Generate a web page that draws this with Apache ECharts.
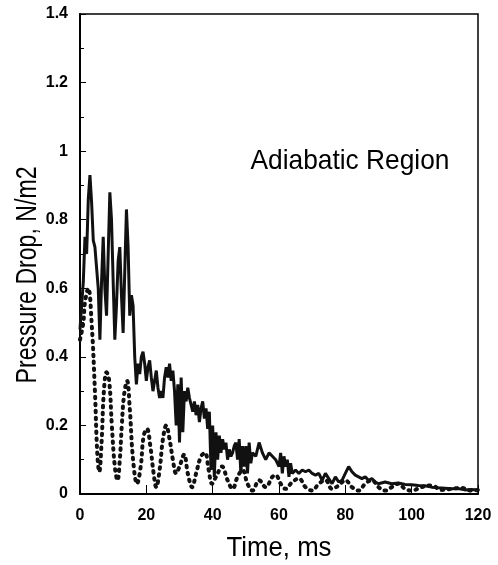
<!DOCTYPE html>
<html><head><meta charset="utf-8">
<script src="https://cdn.jsdelivr.net/npm/echarts@6/dist/echarts.min.js"></script>
<style>html,body{margin:0;padding:0;background:#fff}#c{width:498px;height:565px}</style>
</head><body><div id="c"></div>
<script>
var xTicks = [0, 20, 40, 60, 80, 100, 120];
var yTicks = [0, 0.2, 0.4, 0.6, 0.8, 1, 1.2, 1.4];
var solidT = [0,0.5,1,1.5,2,2.5,3,3.5,4,4.5,5,5.5,6,6.5,7,7.5,8,8.5,9,9.5,10,10.5,11,11.5,12,12.5,13,13.5,14,14.5,15,15.5,16,16.5,17,17.5,18,18.5,19,19.5,20,20.5,21,21.5,22,22.5,23,23.5,24,24.5,25,25.5,26,26.5,27,27.5,28,28.5,29,29.5,30,30.5,31,31.5,32,32.5,33,33.5,34,34.5,35,35.5,36,36.5,37,37.5,38,38.5,39,39.5,40,40.5,41,41.5,42,42.5,43,43.5,44,44.5,45,45.5,46,46.5,47,47.5,48,48.5,49,49.5,50,50.5,51,51.5,52,53,54,55,56,57,58,59,60,60.5,61,61.5,62,62.5,63,63.5,64,65,66,67,68,69,70,71,72,73,74,75,76,77,78,79,80,81,82,83,84,85,86,87,88,89,90,92,94,96,98,100,102,104,106,108,110,112,114,116,118,120];
var solidV = [0.48,0.55,0.62,0.75,0.7,0.86,0.93,0.85,0.74,0.72,0.72,0.6,0.45,0.62,0.75,0.6,0.52,0.7,0.88,0.8,0.62,0.45,0.55,0.68,0.72,0.58,0.47,0.65,0.83,0.72,0.52,0.58,0.55,0.4,0.32,0.38,0.35,0.4,0.415,0.38,0.33,0.37,0.39,0.34,0.3,0.33,0.36,0.31,0.28,0.3,0.28,0.34,0.37,0.34,0.38,0.33,0.36,0.3,0.2,0.32,0.15,0.34,0.18,0.3,0.27,0.31,0.28,0.26,0.24,0.27,0.23,0.26,0.21,0.25,0.27,0.22,0.25,0.19,0.24,0.07,0.2,0.05,0.18,0.1,0.17,0.12,0.16,0.13,0.15,0.1,0.13,0.11,0.12,0.14,0.15,0.1,0.16,0.06,0.14,0.08,0.14,0.06,0.15,0.09,0.12,0.11,0.15,0.12,0.1,0.12,0.11,0.1,0.08,0.12,0.06,0.11,0.08,0.1,0.05,0.09,0.06,0.07,0.06,0.07,0.065,0.07,0.06,0.055,0.06,0.04,0.06,0.045,0.03,0.05,0.035,0.04,0.06,0.08,0.065,0.055,0.05,0.045,0.05,0.04,0.045,0.035,0.03,0.035,0.03,0.032,0.028,0.027,0.025,0.024,0.02,0.018,0.017,0.015,0.016,0.012,0.013,0.012];
var dashT = [0,1,1.5,2.5,3.5,4.5,5.2,5.8,6.5,7.2,8,8.8,9.6,10.5,11.3,12,12.6,13.3,14.2,15,16,17.2,18.3,19.2,20.2,21.2,22.2,23,24,25,26,27,28,29,30,31.4,32.5,33.8,35,36.5,37.7,38.8,39.8,41,42.8,44.5,46,47.5,49,50.5,52,54,56,58,59,60.5,62,64,66,68,70,72,74,76,78,80,82,84,86,88,90,92,94,96,98,100,103,106,109,112,115,118,120];
var dashV = [0.45,0.5,0.56,0.6,0.5,0.3,0.12,0.065,0.15,0.3,0.355,0.33,0.2,0.08,0.04,0.1,0.2,0.29,0.33,0.25,0.1,0.03,0.08,0.17,0.19,0.14,0.06,0.02,0.07,0.16,0.2,0.16,0.1,0.06,0.08,0.115,0.06,0.02,0.06,0.11,0.12,0.07,0.03,0.05,0.08,0.04,0.015,0.05,0.07,0.03,0.01,0.04,0.02,0.05,0.055,0.03,0.015,0.035,0.045,0.02,0.01,0.03,0.04,0.015,0.025,0.04,0.02,0.01,0.03,0.04,0.02,0.01,0.02,0.03,0.015,0.01,0.02,0.025,0.012,0.015,0.018,0.01,0.012];
var labelTitle = 'Adiabatic Region';
var xName = 'Time, ms';
var yName = 'Pressure Drop, N/m2';

function pairs(t, v){ return t.map(function(x,i){return [x, v[i]];}); }
var chart = echarts.init(document.getElementById('c'), null, {renderer:'canvas'});
var FONT = '"Liberation Sans", Arial, Helvetica, sans-serif';
chart.setOption({
  animation:false,
  backgroundColor:'#fff',
  grid:{left:80, right:20, top:14, bottom:71, show:true, borderColor:'#000', borderWidth:1.5, backgroundColor:'transparent'},
  xAxis:{type:'value', min:0, max:120, interval:20,
    axisLine:{lineStyle:{color:'#000', width:2}},
    axisTick:{inside:true, length:9, lineStyle:{color:'#000', width:1}},
    axisLabel:{color:'#000', fontFamily:FONT, fontWeight:'bold', fontSize:16, margin:14,
      formatter:function(v){ return xTicks.indexOf(v)>=0 ? String(v) : ''; }},
    splitLine:{show:false}
  },
  yAxis:{type:'value', min:0, max:1.4, interval:0.2,
    axisLine:{show:true, lineStyle:{color:'#000', width:2}},
    axisTick:{show:true, inside:true, length:6, lineStyle:{color:'#000', width:1}},
    minorTick:{show:true, splitNumber:2, length:4, lineStyle:{color:'#000', width:1}},
    axisLabel:{color:'#000', fontFamily:FONT, fontWeight:'bold', fontSize:16, margin:12,
      formatter:function(v){ var r = Math.round(v*10)/10; return String(r); }},
    splitLine:{show:false}
  },
  graphic:[
    {type:'text', x:350, y:161, scaleX:0.94, style:{text:labelTitle, font:'28px '+FONT, fill:'#000', align:'center', verticalAlign:'middle'}},
    {type:'text', x:28, y:275, rotation:Math.PI/2, scaleX:0.77, style:{text:yName, font:'30px '+FONT, fill:'#000', align:'center', verticalAlign:'middle'}},
    {type:'text', x:279, y:548, scaleX:0.92, style:{text:xName, font:'28px '+FONT, fill:'#000', align:'center', verticalAlign:'middle'}}
  ],
  series:[
    {type:'line', data:pairs(dashT, dashV), showSymbol:false, smooth:0.4,
      lineStyle:{color:'#111', width:4, type:[1.5,5.5], cap:'round'}, z:2},
    {type:'line', data:pairs(solidT, solidV), showSymbol:false,
      lineStyle:{color:'#111', width:3}, z:3}
  ]
});
</script></body></html>
